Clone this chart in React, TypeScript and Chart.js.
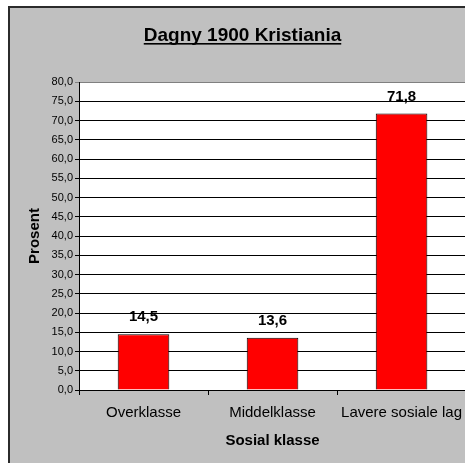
import React, { useEffect, useRef } from "react";
import { Chart, registerables } from "chart.js";

Chart.register(...registerables);

const categories = ["Overklasse", "Middelklasse", "Lavere sosiale lag"];
const values = [14.5, 13.6, 71.8];
const titleText = "Dagny 1900 Kristiania";
const yTitle = "Prosent";
const xTitle = "Sosial klasse";
const yMin = 0;
const yMax = 80;
const yStep = 5;

const FONT = "Arial, 'Liberation Sans', sans-serif";
const fmt = (v: number) => v.toFixed(1).replace(".", ",");

const bgPlugin = {
  id: "bgPlugin",
  beforeDraw(chart: any) {
    const { ctx, width, height, chartArea } = chart;
    ctx.save();
    ctx.fillStyle = "#ffffff";
    ctx.fillRect(0, 0, width, height);
    ctx.fillStyle = "#c0c0c0";
    ctx.fillRect(8, 6, width - 8, height - 6);
    ctx.fillStyle = "#2b2b2b";
    ctx.fillRect(8, 6, 2, height - 6);
    ctx.fillRect(8, 6, width - 8, 2);
    ctx.fillStyle = "#ffffff";
    ctx.fillRect(chartArea.left, chartArea.top, chartArea.right - chartArea.left, chartArea.bottom - chartArea.top);
    ctx.restore();
  },
  afterDraw(chart: any) {
    const { ctx } = chart;
    ctx.save();
    ctx.font = `bold 19px ${FONT}`;
    ctx.fillStyle = "#000";
    ctx.textAlign = "center";
    ctx.textBaseline = "alphabetic";
    const cx = 242.5;
    const by = 41;
    ctx.fillText(titleText, cx, by);
    const w = ctx.measureText(titleText).width;
    ctx.fillRect(cx - w / 2, by + 2, w, 1.6);
    ctx.restore();
  },
};

const labelPlugin = {
  id: "labelPlugin",
  afterDatasetsDraw(chart: any) {
    const { ctx } = chart;
    const meta = chart.getDatasetMeta(0);
    ctx.save();
    ctx.font = `bold 15px ${FONT}`;
    ctx.fillStyle = "#000";
    ctx.textAlign = "center";
    ctx.textBaseline = "middle";
    meta.data.forEach((bar: any, i: number) => {
      ctx.fillText(fmt(values[i]), bar.x, bar.y - 17);
    });
    ctx.restore();
  },
};

export default function App() {
  const ref = useRef<HTMLCanvasElement>(null);
  useEffect(() => {
    if (!ref.current) return;
    const chart = new Chart(ref.current, {
      type: "bar",
      data: {
        labels: categories,
        datasets: [
          {
            data: values,
            backgroundColor: "#ff0000",
            borderColor: "#000000",
            borderWidth: 1,
            categoryPercentage: 1,
            barPercentage: 0.4,
          },
        ],
      },
      options: {
        animation: false,
        responsive: false,
        devicePixelRatio: 1,
        layout: { padding: { top: 82, left: 0, right: 0, bottom: 0 } },
        plugins: {
          legend: { display: false },
          title: { display: false },
          tooltip: { enabled: false },
        },
        scales: {
          x: {
            afterFit: (s: any) => {
              s.height = 73;
            },
            grid: {
              drawOnChartArea: false,
              drawTicks: true,
              tickLength: 5,
              color: "#000",
            },
            border: { color: "#000", width: 1 },
            ticks: {
              color: "#000",
              font: { family: FONT, size: 15 },
              padding: 9,
              maxRotation: 0,
              autoSkip: false,
            },
            title: {
              display: true,
              text: xTitle,
              color: "#000",
              font: { family: FONT, size: 15, weight: "bold" },
              padding: { top: 0, bottom: 13 },
            },
          },
          y: {
            min: yMin,
            max: yMax,
            afterFit: (s: any) => {
              s.width = 79;
            },
            grid: {
              color: (c: any) => (c.tick && c.tick.value === yMax ? "#808080" : "#000"),
              tickLength: 4,
            },
            border: { color: "#000", width: 1 },
            ticks: {
              stepSize: yStep,
              color: "#000",
              font: { family: FONT, size: 11 },
              padding: 2,
              callback: (v: any) => fmt(Number(v)),
            },
            title: {
              display: true,
              text: yTitle,
              color: "#000",
              font: { family: FONT, size: 15, weight: "bold" },
              padding: { top: 26, bottom: 0 },
            },
          },
        },
      },
      plugins: [bgPlugin, labelPlugin],
    });
    return () => chart.destroy();
  }, []);
  return (
    <div style={{ position: "absolute", left: 0, top: 0, width: 465, height: 463, overflow: "hidden" }}>
      <canvas ref={ref} width={471} height={463} style={{ display: "block" }} />
    </div>
  );
}
